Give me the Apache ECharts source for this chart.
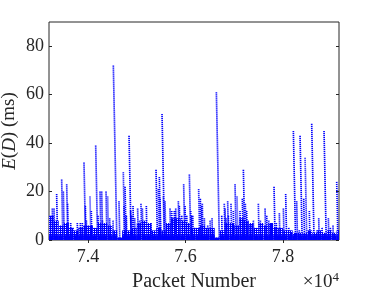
<!DOCTYPE html>
<html><head><meta charset="utf-8">
<script src="https://cdn.jsdelivr.net/npm/echarts@6/dist/echarts.min.js"></script>
<style>html,body{margin:0;padding:0;background:#fff}#c{width:374px;height:294px}</style>
</head><body><div id="c"></div>
<script>
// Columns of points: packet number where E(D) peaks, and peak value (ms)
const colPacket = [73214,73262,73268,73303,73357,73460,73494,73563,73583,73590,73645,73692,73781,73843,73884,73918,73946,73966,74041,74068,74158,74205,74247,74281,74294,74370,74404,74445,74513,74520,74636,74725,74739,74760,74787,74842,74876,74903,74924,74958,75019,75061,75088,75115,75197,75238,75293,75396,75443,75464,75478,75519,75546,75580,75648,75683,75718,75771,75786,75800,75854,75874,75923,75963,75991,76026,76080,76108,76128,76149,76183,76270,76305,76333,76346,76387,76456,76504,76545,76572,76634,76744,76797,76812,76832,76866,76880,76935,76982,77017,77058,77119,77167,77188,77208,77229,77256,77310,77351,77393,77496,77536,77633,77667,77708,77762,77817,77864,77926,78009,78056,78119,78172,78214,78282,78336,78351,78426,78454,78494,78542,78590,78700,78734,78802,78843,78932,78972,79027,79103,79144];
const colPeak   = [10,10,13,13,19,25,20,23,15,7,7,5,7,7,7,32,14,8,18,12,39,10,20,20,8,20,18,9,8,72,16,28,14,22,10,43,12,10,14,9,13,8,15,13,14,5,7,29,21,26,17,52,18,16,6,13,12,12,12,13,16,14,10,23,14,10,27,12,10,10,5,21,17,14,15,9,6,8,9,4,61,10,15,13,9,16,10,15,12,23,18,12,17,29,10,15,12,6,6,8,15,8,13,10,8,7,22,7,11,13,19,5,3,45,16,4,43,17,34,2,12,48,4,9,5,45,9,5,6,24,4];
// Dense low band: bin start packet, mesh level (ms) and solid floor level (ms)
const baseBinStart = [73200,73300,73400,73500,73600,73700,73800,73900,74000,74100,74200,74300,74400,74500,74600,74700,74800,74900,75000,75100,75200,75300,75400,75500,75600,75700,75800,75900,76000,76100,76200,76300,76400,76500,76600,76700,76800,76900,77000,77100,77200,77300,77400,77500,77600,77700,77800,77900,78000,78100,78200,78300,78400,78500,78600,78700,78800,78900,79000,79100];
const baseLevel    = [10,8,6,7,5,4,5,6,6,5,7,7,6,4,1,4,4,5,7,8,7,4,5,4,7,9,9,8,7,5,5,6,5,5,1,4,7,7,6,9,8,7,5,7,6,7,5,5,4,4,3,3,3,4,3,4,3,4,3,4];
const floorLevel   = [2,2,2,2,2,2,2,2,2,2,2,2,2,2,1,2,2,2,2,2,2,2,2,2,2,2,2,2,2,2,2,2,2,2,1,2,2,2,2,2,2,2,2,2,2,2,2,2,2,2,2,2,2,2,2,2,2,2,2,2];
const xTicks = [74000,76000,78000];
const yTicks = [0,20,40,60,80];
const xLabel = 'Packet Number';

const FONT = 'Liberation Serif';
const TXT = '#262626';
const BLUE = '#0000ff';

const pc = document.createElement('canvas');
pc.width = 2; pc.height = 2;
const g = pc.getContext('2d');
g.fillStyle = BLUE; g.fillRect(0,0,2,2);
g.fillStyle = '#ffffff'; g.fillRect(1,1,1,1);

const chart = echarts.init(document.getElementById('c'), null, {renderer:'canvas'});
const xMin = 73200, xMax = 79150;
const tickStyle = {color:'#262626', width:1};
chart.setOption({
  animation:false,
  grid:{left:49, right:35, top:22, bottom:54, outerBoundsMode:'none', containLabel:false,
    show:true, borderColor:'#262626', borderWidth:1, backgroundColor:'transparent'},
  xAxis:[
    {type:'value', min:xMin, max:xMax, position:'bottom',
      axisLine:{show:false}, splitLine:{show:false},
      axisTick:{show:true, inside:true, length:3, customValues:xTicks, lineStyle:tickStyle},
      axisLabel:{show:true, customValues:xTicks, margin:8, fontFamily:FONT, fontSize:18, color:TXT,
        formatter:v=>(v/10000).toFixed(1)}},
    {type:'value', min:xMin, max:xMax, position:'top',
      axisLine:{show:false}, splitLine:{show:false},
      axisTick:{show:true, inside:true, length:3, customValues:xTicks, lineStyle:tickStyle},
      axisLabel:{show:false}}
  ],
  yAxis:[
    {type:'value', min:0, max:90, position:'left',
      name:'{i|E}({i|D}) (ms)', nameLocation:'middle', nameRotate:90, nameGap:30, nameMoveOverlap:false,
      nameTextStyle:{fontFamily:FONT, fontSize:19, color:TXT,
        rich:{i:{fontStyle:'italic', fontFamily:FONT, fontSize:19, color:TXT}}},
      axisLine:{show:false}, splitLine:{show:false},
      axisTick:{show:true, inside:true, length:3, customValues:yTicks, lineStyle:tickStyle},
      axisLabel:{show:true, customValues:yTicks, margin:5, fontFamily:FONT, fontSize:18, color:TXT}},
    {type:'value', min:0, max:90, position:'right',
      axisLine:{show:false}, splitLine:{show:false},
      axisTick:{show:true, inside:true, length:3, customValues:yTicks, lineStyle:tickStyle},
      axisLabel:{show:false}}
  ],
  graphic:[
    {type:'text', x:194, y:282, style:{text:xLabel, fill:TXT, font:'20px '+FONT, align:'center', verticalAlign:'middle'}},
    {type:'text', x:339, y:282, style:{text:'×10{s|4}', fill:TXT, font:'19px '+FONT, align:'right', verticalAlign:'middle',
      rich:{s:{fontSize:13, fontFamily:FONT, verticalAlign:'top', padding:[0,0,9,0]}}}}
  ],
  series:[
    {type:'custom', clip:true, xAxisIndex:0, yAxisIndex:0, z:1,
      data: baseBinStart.map((s,i)=>[s, baseLevel[i], i<baseBinStart.length-1 ? baseBinStart[i+1] : xMax, floorLevel[i]]),
      renderItem:(p, api)=>{
        const a = api.coord([api.value(0), api.value(1)]);
        const b = api.coord([api.value(2), 0]);
        const f = api.coord([api.value(0), api.value(3)]);
        return {type:'group', children:[
          {type:'rect', shape:{x:a[0], y:a[1], width:b[0]-a[0], height:b[1]-a[1]},
            style:{fill:{image:pc, repeat:'repeat'}}},
          {type:'rect', shape:{x:a[0], y:f[1], width:b[0]-a[0], height:b[1]-f[1]},
            style:{fill:BLUE}}
        ]};
      }},
    {type:'custom', clip:true, xAxisIndex:0, yAxisIndex:0, z:2,
      data: colPacket.map((s,i)=>[s, colPeak[i]]),
      renderItem:(p, api)=>{
        const a = api.coord([api.value(0), api.value(1)]);
        const b = api.coord([api.value(0)+api.value(1), 0]);
        return {type:'line', shape:{x1:a[0], y1:a[1], x2:b[0], y2:b[1]},
          style:{stroke:BLUE, lineWidth:1.7, lineDash:[1.2,0.8]}};
      }}
  ]
});
</script></body></html>
